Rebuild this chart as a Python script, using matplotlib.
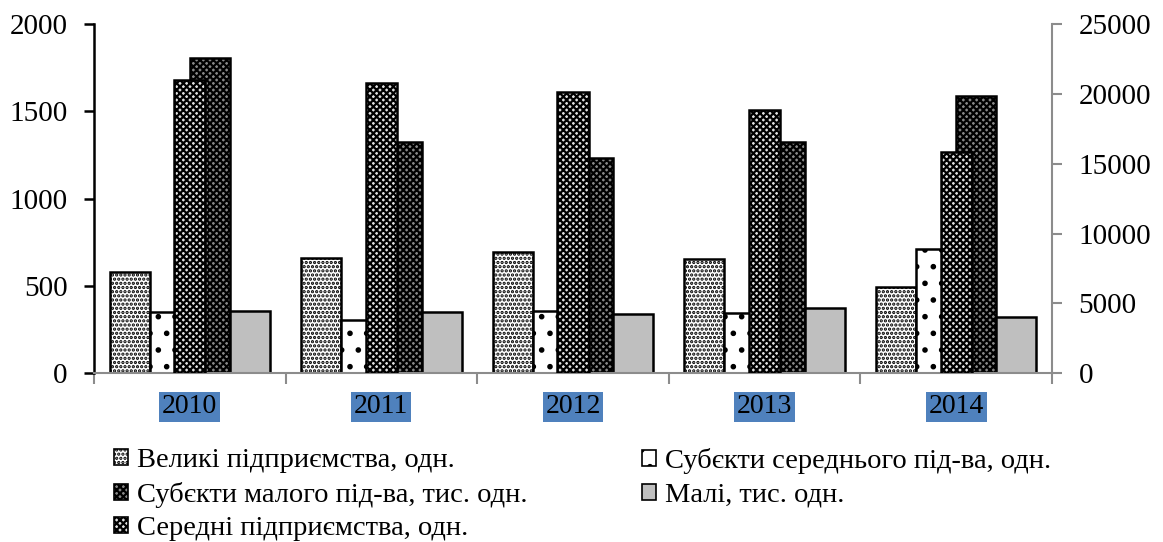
import matplotlib
matplotlib.use("Agg")
import matplotlib.pyplot as plt
import numpy as np
from matplotlib.patches import Patch

years = ["2010", "2011", "2012", "2013", "2014"]
velyki = [581, 658, 696, 656, 495]            # Великі підприємства, одн. (left axis)
subj_seredn = [352, 304, 357, 346, 713]       # Субєкти середнього під-ва, одн. (left axis)
subj_mal = [1805, 1323, 1231, 1327, 1589]     # Субєкти малого під-ва, тис. одн. (left axis)
mali = [354, 348, 338, 371, 319]              # Малі, тис. одн. (left axis)
seredni = [21000, 20770, 20170, 18850, 15870] # Середні підприємства, одн. (right axis)

plt.rcParams['font.family'] = ['Liberation Serif', 'DejaVu Serif']
plt.rcParams['hatch.linewidth'] = 1.6

fig = plt.figure(figsize=(11.63, 5.42), dpi=100)
ax = fig.add_axes([94/1163, 1-373/542, (1052-94)/1163, (373-24.3)/542])
ax2 = ax.twinx()

x = np.arange(len(years))
w = 40/191
offs = [-1.5*w, -0.5*w, 0.5*w, 1.5*w]
ec = 'black'
lw = 1.8
ax.bar(x+offs[0], velyki, w, facecolor='white', edgecolor=ec, hatch='....', linewidth=lw, zorder=2)
ax.bar(x+offs[1], subj_seredn, w, facecolor='white', edgecolor=ec, hatch='.', linewidth=lw, zorder=2)
ax.bar(x+offs[2], subj_mal, w, facecolor='#888888', edgecolor=ec, hatch='xxxxx', linewidth=lw, zorder=2)
ax.bar(x+offs[3], mali, w, facecolor='#bfbfbf', edgecolor=ec, linewidth=lw, zorder=2)
w2 = 31/191
ax2.bar(x, seredni, w2, facecolor='#e0e0e0', edgecolor=ec, hatch='xxxxx', linewidth=lw, zorder=2)

ax.set_xlim(-0.5, 4.5)
ax.set_ylim(0, 2000)
ax2.set_ylim(0, 25000)
ax.set_yticks([0, 500, 1000, 1500, 2000])
ax2.set_yticks([0, 5000, 10000, 15000, 20000, 25000])

for a in (ax, ax2):
    a.spines['top'].set_visible(False)
ax.spines['left'].set_color('black')
ax.spines['left'].set_linewidth(1.8)
ax.spines['right'].set_visible(False)
ax2.spines['left'].set_visible(False)
ax2.spines['right'].set_color('#8c8c8c')
ax2.spines['right'].set_linewidth(1.5)
ax2.spines['bottom'].set_visible(False)
ax.spines['bottom'].set_color('#8c8c8c')
ax.spines['bottom'].set_linewidth(1.5)

ax.tick_params(axis='y', direction='out', length=7, width=1.8, color='black', labelsize=21, pad=12)
ax2.tick_params(axis='y', direction='out', length=7, width=1.5, color='#8c8c8c', labelsize=21, pad=12)

# category ticks between groups, labels centered
ax.set_xticks(np.arange(-0.5, 5.0, 1.0))
ax.set_xticklabels([])
ax.tick_params(axis='x', direction='out', length=8, width=1.5, color='#8c8c8c')
for xi, yr in zip(x, years):
    ax.text(xi, -0.097, yr, transform=ax.get_xaxis_transform(), ha='center', va='center',
            fontsize=20, bbox=dict(boxstyle='square,pad=0.1', facecolor='#4f81bd', edgecolor='none'))

h1 = Patch(facecolor='white', edgecolor=ec, hatch='....', linewidth=1.2)
h2 = Patch(facecolor='white', edgecolor=ec, hatch='.', linewidth=1.2)
h3 = Patch(facecolor='#888888', edgecolor=ec, hatch='xxxxx', linewidth=1.2)
h4 = Patch(facecolor='#bfbfbf', edgecolor=ec, linewidth=1.2)
h5 = Patch(facecolor='#e0e0e0', edgecolor=ec, hatch='xxxxx', linewidth=1.2)

common = dict(loc='upper left', frameon=False, fontsize=20.5, handlelength=0.5, handleheight=0.5,
              handletextpad=0.3, labelspacing=0.3, borderpad=0)
leg1 = fig.legend([h1, h3, h5],
                  ["Великі підприємства, одн.", "Субєкти малого під-ва, тис. одн.", "Середні підприємства, одн."],
                  bbox_to_anchor=(100/1163, 1-434/542), **common)
leg2 = fig.legend([h2, h4],
                  ["Субєкти середнього під-ва, одн.", "Малі, тис. одн."],
                  bbox_to_anchor=(628/1163, 1-434/542), **common)

fig.savefig("out.png", dpi=100)
